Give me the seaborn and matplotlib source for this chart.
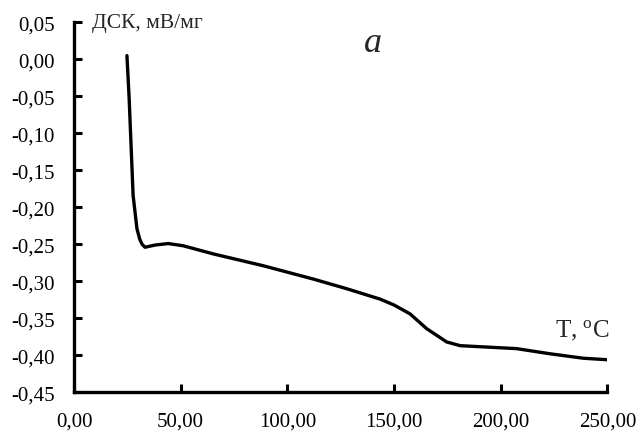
import matplotlib
matplotlib.use("Agg")
import matplotlib.pyplot as plt
import seaborn as sns
import pandas as pd
from matplotlib.ticker import FuncFormatter

# Data
temperature = [24.8, 25.8, 27.7, 29.5, 30.8, 31.9, 33.3, 38.0, 44.2, 51.2, 65.3, 88.7,
               112.2, 127.8, 143.4, 150.0, 157.5, 165.3, 174.7, 181.0, 207.5,
               223.2, 238.8, 250.0]
dsc = [0.005, -0.050, -0.184, -0.229, -0.243, -0.250, -0.254, -0.251, -0.249, -0.252,
       -0.263, -0.279, -0.297, -0.310, -0.324, -0.332, -0.344, -0.364, -0.382,
       -0.387, -0.391, -0.398, -0.404, -0.406]
x_ticks = [0, 50, 100, 150, 200, 250]
y_ticks = [0.05, 0.00, -0.05, -0.10, -0.15, -0.20, -0.25, -0.30, -0.35, -0.40, -0.45]

sns.set_style("ticks")
plt.rcParams['font.family'] = ['Liberation Serif', 'DejaVu Serif']
plt.rcParams['mathtext.fontset'] = 'custom'
plt.rcParams['mathtext.rm'] = 'Liberation Serif'
plt.rcParams['mathtext.it'] = 'Liberation Serif:italic'

df = pd.DataFrame({"T": temperature, "DSC": dsc})

fig = plt.figure(figsize=(6.42, 4.35), dpi=100)
ax = fig.add_axes([0.1153, 0.0959, 0.8307, 0.8505])
sns.lineplot(data=df, x="T", y="DSC", ax=ax, color="black", linewidth=2.4)

ax.set_xlim(0, 250)
ax.set_ylim(-0.45, 0.05)
ax.set_xticks(x_ticks)
ax.set_yticks(y_ticks)
ax.xaxis.set_major_formatter(FuncFormatter(lambda v, p: ("%.2f" % v).replace(".", ",")))
ax.yaxis.set_major_formatter(FuncFormatter(
    lambda v, p: ("%.2f" % v).replace(".", ",") if abs(v) > 1e-9 else "0,00"))
ax.tick_params(direction="in", length=6, width=2.2, labelsize=15, colors="black")
ax.tick_params(axis="x", pad=14)
ax.tick_params(axis="y", pad=14)
for s in ["top", "right"]:
    ax.spines[s].set_visible(False)
for s in ["left", "bottom"]:
    ax.spines[s].set_linewidth(2.4)
    ax.spines[s].set_color("black")
ax.set_xlabel("")
ax.set_ylabel("")

ax.text(0.034, 1.0, "ДСК, мВ/мг", transform=ax.transAxes, fontsize=15.5,
        ha="left", va="center")
ax.text(0.561, 0.945, "a", transform=ax.transAxes, fontsize=26, style="italic",
        ha="center", va="center")
ax.text(1.005, 0.168, r"T, $^{\mathrm{o}}$C", transform=ax.transAxes, fontsize=18,
        ha="right", va="center")

fig.savefig("out.png", dpi=100)
